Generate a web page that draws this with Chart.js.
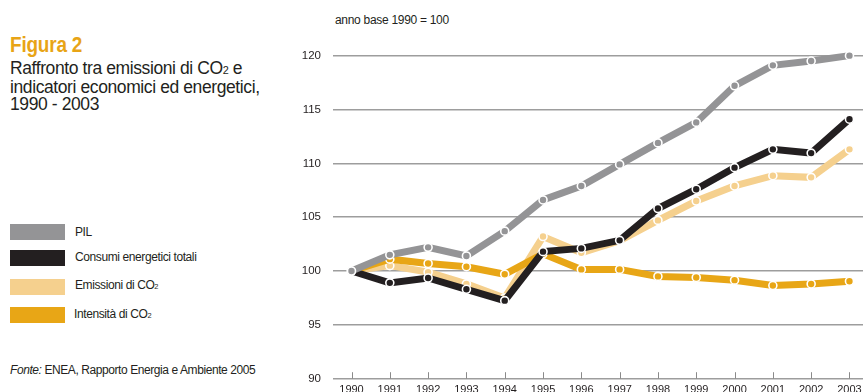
<!DOCTYPE html>
<html>
<head>
<meta charset="utf-8">
<script src="https://cdn.jsdelivr.net/npm/chart.js@4"></script>
<style>
  html, body { margin: 0; padding: 0; width: 863px; height: 392px; overflow: hidden; background: #fff; }
  body { position: relative; font-family: "Liberation Sans", Arial, sans-serif; color: #231f20; }
  .fig { position: absolute; left: 10px; top: 32px; font-weight: bold; font-size: 22px; color: #e8a416; letter-spacing: -0.2px; transform: scaleX(0.86); transform-origin: 0 0; white-space: nowrap; }
  .sub { position: absolute; left: 10px; top: 60px; font-size: 17.5px; line-height: 17px; letter-spacing: -0.4px; }
  .sub sub { font-size: 62%; vertical-align: baseline; }
  .note { position: absolute; left: 335px; top: 13px; font-size: 12px; letter-spacing: -0.3px; }
  .sw { position: absolute; left: 10px; width: 55px; height: 16px; }
  .lt { position: absolute; left: 75px; font-size: 12px; letter-spacing: -0.4px; }
  .lt sub { font-size: 62%; vertical-align: baseline; }
  .src { position: absolute; left: 10px; top: 363px; font-size: 12px; letter-spacing: -0.42px; white-space: nowrap; }
  #wrap { position: absolute; left: 290px; top: 0; width: 590px; height: 400px; }
</style>
</head>
<body>
<div class="fig">Figura 2</div>
<div class="sub">Raffronto tra emissioni di CO<sub>2</sub> e<br>indicatori economici ed energetici,<br>1990 - 2003</div>
<div class="note">anno base 1990 = 100</div>

<div class="sw" style="top:224px;background:#949496"></div>
<div class="lt" style="top:225px">PIL</div>
<div class="sw" style="top:250px;background:#231f20"></div>
<div class="lt" style="top:250px">Consumi energetici totali</div>
<div class="sw" style="top:279px;background:#f5d08e"></div>
<div class="lt" style="top:278px">Emissioni di CO<sub>2</sub></div>
<div class="sw" style="top:307px;background:#e8a616"></div>
<div class="lt" style="top:307px;left:74px">Intensità di CO<sub>2</sub></div>

<div class="src"><i>Fonte:</i> ENEA, Rapporto Energia e Ambiente 2005</div>

<div id="wrap"><canvas id="c"></canvas></div>

<script>
// Indici (anno base 1990 = 100)
const years = [1990, 1991, 1992, 1993, 1994, 1995, 1996, 1997, 1998, 1999, 2000, 2001, 2002, 2003];
const pil        = [100, 101.5, 102.2, 101.4, 103.7, 106.6, 107.9, 109.9, 111.9, 113.8, 117.2, 119.1, 119.5, 120.0];
const consumi    = [100, 98.9, 99.35, 98.3, 97.25, 101.8, 102.1, 102.85, 105.8, 107.6, 109.6, 111.3, 110.95, 114.1];
const emissioni  = [100, 100.5, 99.9, 98.8, 97.5, 103.2, 101.7, 102.8, 104.7, 106.5, 107.9, 108.85, 108.7, 111.3];
const intensita  = [100, 101.1, 100.7, 100.4, 99.7, 101.6, 100.15, 100.15, 99.5, 99.4, 99.15, 98.65, 98.8, 99.05];
const yTicks = [90, 95, 100, 105, 110, 115, 120];

function series(label, values, color, order) {
  return {
    label,
    data: years.map((y, i) => ({ x: y, y: values[i] })),
    borderColor: color,
    backgroundColor: color,
    borderWidth: 7,
    borderCapStyle: 'butt',
    borderJoinStyle: 'miter',
    pointRadius: 4,
    pointBackgroundColor: color,
    pointBorderColor: '#ffffff',
    pointBorderWidth: 1.6,
    tension: 0,
    clip: false,
    order
  };
}

// small upward tick marks on the base line
const tickMarks = {
  id: 'tickMarks',
  beforeDatasetsDraw(chart) {
    const xs = chart.scales.x, ys = chart.scales.y, ctx = chart.ctx;
    const base = ys.getPixelForValue(90);
    ctx.save();
    ctx.strokeStyle = '#8a8a8a';
    ctx.lineWidth = 1;
    xs.ticks.forEach(t => {
      const px = Math.round(xs.getPixelForValue(t.value)) + 0.5;
      ctx.beginPath();
      ctx.moveTo(px, base);
      ctx.lineTo(px, base - 6.5);
      ctx.stroke();
    });
    ctx.restore();
  }
};

new Chart(document.getElementById('c'), {
  type: 'line',
  data: {
    datasets: [
      series('PIL', pil, '#949496', 0),
      series('Consumi energetici totali', consumi, '#231f20', 1),
      series('Intensità di CO2', intensita, '#e8a616', 2),
      series('Emissioni di CO2', emissioni, '#f5d08e', 3)
    ]
  },
  options: {
    responsive: true,
    maintainAspectRatio: false,
    animation: false,
    devicePixelRatio: 1,
    layout: { padding: { top: 39.5, right: 0, left: 0, bottom: 0 } },
    plugins: { legend: { display: false }, tooltip: { enabled: false } },
    scales: {
      x: {
        type: 'linear',
        min: 1989.517,
        max: 2003.651,
        afterBuildTicks: s => { s.ticks = years.map(v => ({ value: v })); },
        afterFit: s => { s.height = 400 - 378.7; },
        grid: { display: false, drawTicks: false },
        border: { display: false },
        ticks: {
          padding: 4.5,
          color: '#231f20',
          font: { family: 'Liberation Sans', size: 11 },
          maxRotation: 0,
          autoSkip: false,
          callback: v => String(v)
        }
      },
      y: {
        min: 90,
        max: 121.5,
        afterBuildTicks: s => { s.ticks = yTicks.map(v => ({ value: v })); },
        afterFit: s => { s.width = 43; },
        grid: { color: '#9d9d9d', lineWidth: 1.5, drawTicks: false },
        border: { display: false },
        ticks: {
          padding: 12,
          color: '#231f20',
          font: { family: 'Liberation Sans', size: 11.5 },
          callback: v => String(v)
        }
      }
    }
  },
  plugins: [tickMarks]
});
</script>
</body>
</html>
